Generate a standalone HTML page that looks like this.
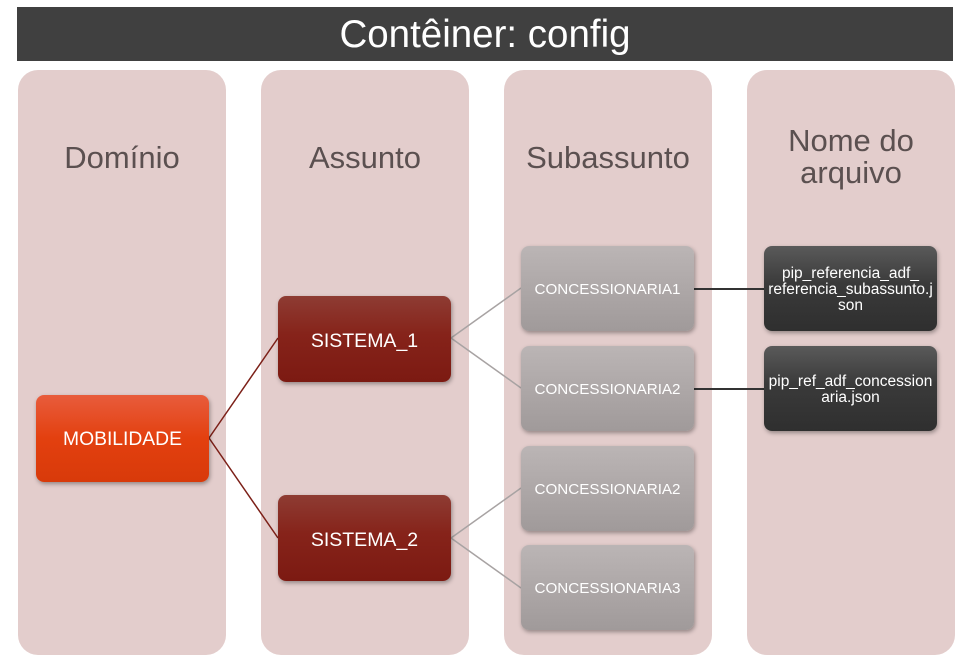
<!DOCTYPE html>
<html><head><meta charset="utf-8"><style>
body{margin:0;width:963px;height:663px;background:#fff;position:relative;overflow:hidden;font-family:"Liberation Sans",sans-serif}
.a{position:absolute;box-sizing:border-box}
.title{left:17px;top:7px;width:936px;height:54px;background:#404040;color:#fff;font-size:38.5px;text-align:center;line-height:56px}
.col{top:70px;width:208px;height:585px;background:#e3cdcc;border-radius:20px;color:#5b5050;font-size:31px;text-align:center}
.n{width:173px;border-radius:8px;color:#fff;font-size:16px;display:flex;align-items:center;justify-content:center;text-align:center;box-shadow:1px 2px 4px rgba(0,0,0,.35);line-height:18px;padding-top:3px}
.g{left:521px;height:85px;background:linear-gradient(#bbb5b5,#a09a9a);font-size:15.2px}
.s{left:278px;height:86px;background:linear-gradient(#8e3c33,#86231a 45%,#7c1a12);font-size:19.5px}
.f{left:764px;height:85px;background:linear-gradient(#5a5a5a,#3a3a3a 45%,#2f2f2f);font-size:15.5px;line-height:16px;padding:3px 1px 0}
</style></head><body>
<div class="a title">Contêiner: config</div>
<div class="a col" style="left:18px;padding-top:70px">Domínio</div>
<div class="a col" style="left:261px;padding-top:70px">Assunto</div>
<div class="a col" style="left:504px;padding-top:70px">Subassunto</div>
<div class="a col" style="left:747px;padding-top:55px;line-height:32px">Nome do<br>arquivo</div>
<svg class="a" style="left:0;top:0" width="963" height="663">
<g stroke="#7c2018" stroke-width="1.5" fill="none"><path d="M209 438L278 338M209 438L278 538"/></g>
<g stroke="#a8a3a3" stroke-width="1.5" fill="none"><path d="M451 338L521 288M451 338L521 388M451 538L521 488M451 538L521 588"/></g>
<g stroke="#333" stroke-width="2"><path d="M694 289H764M694 389H764"/></g>
</svg>
<div class="a n" style="left:36px;top:395px;height:87px;background:linear-gradient(#e85c3c,#e3400f 50%,#d83a0a);font-size:19.3px">MOBILIDADE</div>
<div class="a n s" style="top:296px">SISTEMA_1</div>
<div class="a n s" style="top:495px">SISTEMA_2</div>
<div class="a n g" style="top:246px">CONCESSIONARIA1</div>
<div class="a n g" style="top:346px">CONCESSIONARIA2</div>
<div class="a n g" style="top:446px">CONCESSIONARIA2</div>
<div class="a n g" style="top:545px">CONCESSIONARIA3</div>
<div class="a n f" style="top:246px">pip_referencia_adf_<br>referencia_subassunto.j<br>son</div>
<div class="a n f" style="top:346px">pip_ref_adf_concession<br>aria.json</div>
</body></html>
